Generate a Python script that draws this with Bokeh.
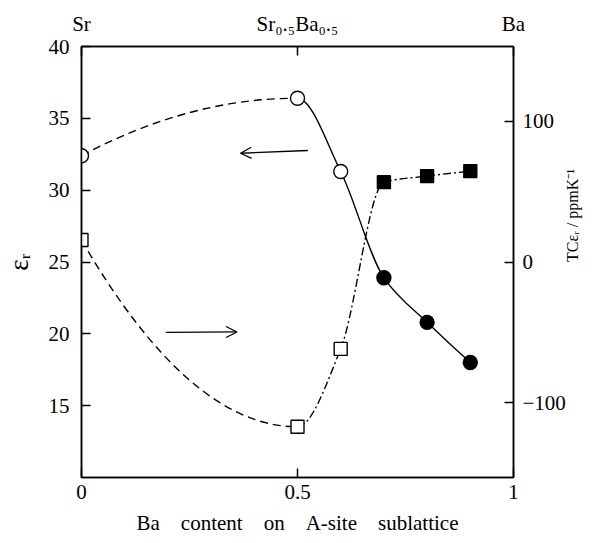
import numpy as np
from bokeh.plotting import figure
from bokeh.models import (Range1d, LinearAxis, FixedTicker, Arrow,
                          OpenHead, ColumnDataSource)
from bokeh.embed import file_html
from bokeh.resources import INLINE

# ---------------- data ----------------
ba = [0.0, 0.5, 0.6, 0.7, 0.8, 0.9]
er = [32.4, 36.4, 31.3, 23.9, 20.8, 18.0]          # dielectric constant (left axis)
tc = [15.6, -117.0, -61.7, 56.7, 61.0, 64.5]       # TCer / ppm K-1 (right axis)
n_open = 3                                          # first three points: open symbols

x_ticks = [0, 0.5, 1]
er_ticks = [15, 20, 25, 30, 35, 40]
tc_ticks = [-100, 0, 100]
top_names = ["Sr", "Sr\u2080.\u2085Ba\u2080.\u2085", "Ba"]

# annotation arrows (data coordinates, left axis)
arrow_left = dict(x_start=0.524, y_start=32.76, x_end=0.368, y_end=32.57)
arrow_right = dict(x_start=0.195, y_start=20.10, x_end=0.360, y_end=20.13)

FONT = "Liberation Serif"
SP = " \u00a0\u00a0\u00a0"


def tangents(x, y):
    """Fritsch-Carlson monotone tangents, parabolic end conditions."""
    x = np.asarray(x, float); y = np.asarray(y, float)
    h = np.diff(x); d = np.diff(y) / h
    n = len(x); m = np.zeros(n)
    for k in range(1, n - 1):
        if d[k - 1] * d[k] > 0:
            w1 = 2 * h[k] + h[k - 1]; w2 = h[k] + 2 * h[k - 1]
            m[k] = (w1 + w2) / (w1 / d[k - 1] + w2 / d[k])
    m[0] = 2 * d[0] - m[1]
    m[-1] = 2 * d[-1] - m[-2]
    if m[0] * d[0] < 0: m[0] = 0
    if m[-1] * d[-1] < 0: m[-1] = 0
    return m


def bezier_source(x, y, idx):
    x = np.asarray(x, float); y = np.asarray(y, float)
    m = tangents(x, y)
    data = dict(x0=[], y0=[], x1=[], y1=[], cx0=[], cy0=[], cx1=[], cy1=[])
    for k in idx:
        h = x[k + 1] - x[k]
        data["x0"].append(x[k]); data["y0"].append(y[k])
        data["x1"].append(x[k + 1]); data["y1"].append(y[k + 1])
        data["cx0"].append(x[k] + h / 3); data["cy0"].append(y[k] + m[k] * h / 3)
        data["cx1"].append(x[k + 1] - h / 3); data["cy1"].append(y[k + 1] - m[k + 1] * h / 3)
    return ColumnDataSource(data)


p = figure(width=592, height=543, output_backend="svg", toolbar_location=None,
           x_range=Range1d(0, 1), y_range=Range1d(10, 40),
           min_border_left=81, min_border_right=76, min_border_top=46,
           min_border_bottom=66, background_fill_color="white",
           border_fill_color="white")
p.extra_y_ranges = {"tc": Range1d(-153, 153)}
p.xgrid.visible = False
p.ygrid.visible = False
p.outline_line_color = "black"
p.outline_line_width = 1.5


def style_axis(ax):
    ax.axis_line_color = "black"
    ax.axis_line_width = 1.5
    ax.major_tick_line_color = "black"
    ax.major_tick_line_width = 1.5
    ax.major_tick_in = 9
    ax.major_tick_out = 0
    ax.minor_tick_line_color = None
    ax.major_label_text_font = FONT
    ax.major_label_text_font_size = "21px"
    ax.major_label_text_color = "black"
    ax.axis_label_text_font = FONT
    ax.axis_label_text_font_style = "normal"
    ax.axis_label_text_color = "black"


xa = p.xaxis[0]
xa.ticker = FixedTicker(ticks=x_ticks)
xa.major_label_overrides = {0: "0", 0.5: "0.5", 1: "1"}
xa.axis_label = SP.join(["Ba", "content", "on", "A-site", "sublattice"])
style_axis(xa)
xa.axis_label_text_font_size = "21px"
xa.major_label_standoff = 7
xa.axis_label_standoff = 9

ya = p.yaxis[0]
ya.ticker = FixedTicker(ticks=er_ticks)
style_axis(ya)
ya.major_label_standoff = 12
ya.axis_label = "\u03b5\u1d63"
ya.axis_label_text_font_size = "27px"
ya.axis_label_standoff = 12

ra = LinearAxis(y_range_name="tc", ticker=FixedTicker(ticks=tc_ticks),
                major_label_overrides={-100: "\u2212100", 0: "0", 100: "100"})
style_axis(ra)
ra.major_label_standoff = 9
ra.axis_label = "TC\u03b5\u1d63 / ppmK\u207b\u00b9"
ra.axis_label_text_font_size = "16px"
ra.axis_label_standoff = 4
ra.axis_label_orientation = np.pi / 2
p.add_layout(ra, "right")

ta = LinearAxis(ticker=FixedTicker(ticks=x_ticks),
                major_label_overrides={0: top_names[0], 0.5: top_names[1], 1: top_names[2]})
style_axis(ta)
ta.major_label_standoff = 11
p.add_layout(ta, "above")

# ---------------- curves ----------------
n = len(ba)
er_first = bezier_source(ba, er, [0])
er_rest = bezier_source(ba, er, list(range(1, n - 1)))
tc_first = bezier_source(ba, tc, [0])
tc_rest = bezier_source(ba, tc, list(range(1, n - 1)))

bz = dict(x0="x0", y0="y0", x1="x1", y1="y1", cx0="cx0", cy0="cy0",
          cx1="cx1", cy1="cy1", line_color="black", line_width=1.4)
p.bezier(source=er_first, line_dash="8 5", **bz)
p.bezier(source=er_rest, **bz)
p.bezier(source=tc_first, line_dash="8 5", y_range_name="tc", **bz)
p.bezier(source=tc_rest, line_dash="8 3 2 3", y_range_name="tc", **bz)

# ---------------- markers ----------------
p.scatter(ba[:n_open], er[:n_open], marker="circle", size=14, fill_color="white",
          line_color="black", line_width=1.4)
p.scatter(ba[n_open:], er[n_open:], marker="circle", size=14, fill_color="black",
          line_color="black", line_width=1.4)
p.scatter(ba[:n_open], tc[:n_open], marker="square", size=13, fill_color="white",
          line_color="black", line_width=1.4, y_range_name="tc")
p.scatter(ba[n_open:], tc[n_open:], marker="square", size=13, fill_color="black",
          line_color="black", line_width=1.4, y_range_name="tc")

# ---------------- arrows ----------------
for a in (arrow_left, arrow_right):
    p.add_layout(Arrow(end=OpenHead(size=11, line_width=1.3, line_color="black"),
                       line_color="black", line_width=1.3, **a))

open("out.html", "w").write(file_html(p, INLINE))
